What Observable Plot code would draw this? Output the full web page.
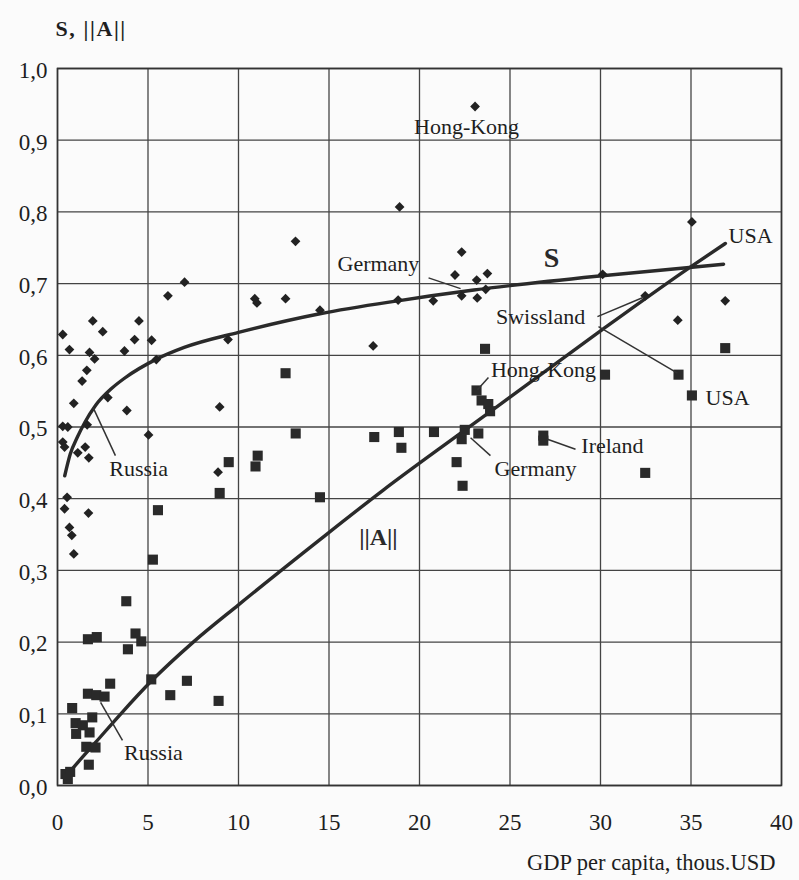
<!DOCTYPE html>
<html>
<head>
<meta charset="utf-8">
<script src="https://cdn.jsdelivr.net/npm/d3@7"></script>
<script src="https://cdn.jsdelivr.net/npm/@observablehq/plot@0.6"></script>
<style>
  html, body { margin: 0; padding: 0; background: #fbfbfb; }
</style>
</head>
<body>
<div id="chart"></div>
<script>
// ---- Data ----
const xTicks = [0, 5, 10, 15, 20, 25, 30, 35, 40];
const yTicks = [0, 0.1, 0.2, 0.3, 0.4, 0.5, 0.6, 0.7, 0.8, 0.9, 1.0];
const yTickLabels = ["0,0","0,1","0,2","0,3","0,4","0,5","0,6","0,7","0,8","0,9","1,0"];

// S (diamonds)
const sGdp = [7.02,6.1,1.95,4.5,0.29,2.5,4.26,5.2,9.42,0.66,1.77,2.05,3.7,5.46,1.62,1.36,2.78,0.9,3.83,8.96,
  0.29,0.57,1.64,5.03,0.29,0.39,1.53,1.12,1.73,8.87,0.53,0.39,1.71,0.66,0.79,0.9,
  23.07,18.9,13.15,22.33,21.96,23.75,23.16,10.9,11.02,12.6,14.5,18.82,20.76,22.33,23.19,23.66,17.44,
  35.05,30.12,32.47,36.89,34.27];
const sValue = [0.702,0.683,0.648,0.648,0.629,0.633,0.622,0.621,0.622,0.608,0.604,0.595,0.606,0.594,0.579,0.564,0.541,0.533,0.523,0.528,
  0.501,0.5,0.503,0.489,0.479,0.472,0.472,0.464,0.457,0.437,0.402,0.386,0.38,0.36,0.349,0.323,
  0.947,0.807,0.759,0.744,0.712,0.714,0.705,0.679,0.673,0.679,0.663,0.677,0.676,0.683,0.68,0.692,0.613,
  0.786,0.713,0.683,0.676,0.649];

// ||A|| (squares)
const aGdp = [9.46,8.96,5.55,5.27,12.6,13.16,11.06,10.94,14.5,17.5,18.86,19.0,20.8,
  3.8,1.68,2.17,4.31,4.63,3.89,5.18,7.15,2.91,1.68,2.14,2.6,6.23,8.9,0.81,1.0,1.92,1.4,1.77,1.03,1.59,2.1,1.73,0.44,0.7,0.57,
  23.62,36.89,30.25,34.31,35.05,23.15,23.43,23.8,23.9,22.5,22.33,23.25,26.84,26.84,22.05,22.38,32.47];
const aValue = [0.451,0.408,0.384,0.315,0.575,0.491,0.46,0.445,0.402,0.486,0.493,0.471,0.493,
  0.257,0.204,0.207,0.212,0.201,0.19,0.148,0.146,0.142,0.128,0.126,0.124,0.126,0.118,0.108,0.087,0.095,0.084,0.074,0.072,0.054,0.053,0.029,0.016,0.019,0.009,
  0.609,0.61,0.573,0.573,0.544,0.551,0.537,0.532,0.522,0.496,0.483,0.491,0.488,0.481,0.451,0.418,0.436];

// trend curves
const sCurveGdp = [0.4,0.7,1.1,1.5,2.1,3,3.7,5.5,7,10,14.5,18.8,23,30.1,36.8];
const sCurveValue = [0.432,0.462,0.486,0.506,0.530,0.554,0.568,0.595,0.611,0.632,0.658,0.676,0.691,0.711,0.727];
const aCurveGdp = [0.5,1.15,2.1,3.5,5.2,7.5,10,14.5,18,22.2,26,30,34.9,36.9];
const aCurveValue = [0.014,0.033,0.060,0.100,0.146,0.200,0.252,0.343,0.412,0.490,0.560,0.634,0.722,0.756];

// annotations
const labelText = ["Hong-Kong","Germany","USA","Swissland","USA","Hong-Kong","Ireland","Germany","Russia","Russia"];
const labelGdp  = [22.6,17.73,38.29,26.69,37.02,26.85,30.66,26.41,4.48,5.3];
const labelVal  = [0.918,0.727,0.766,0.653,0.540,0.579,0.474,0.442,0.442,0.046];

const seriesText = ["S", "||A||"];
const seriesGdp = [27.29, 17.73];
const seriesVal = [0.735, 0.346];

const leaderX1 = [20.5,29.83,29.89,23.81,28.62,23.92,3.2,3.59];
const leaderY1 = [0.708,0.654,0.64,0.569,0.469,0.46,0.46,0.063];
const leaderX2 = [22.27,32.38,34.25,23.2,27.07,22.82,1.99,2.38];
const leaderY2 = [0.693,0.681,0.575,0.552,0.483,0.485,0.526,0.116];

// ---- Build tables ----
const sPoints = sGdp.map((x, i) => ({x, y: sValue[i]}));
const aPoints = aGdp.map((x, i) => ({x, y: aValue[i]}));
const sCurve = sCurveGdp.map((x, i) => ({x, y: sCurveValue[i]}));
const aCurve = aCurveGdp.map((x, i) => ({x, y: aCurveValue[i]}));
const labels = labelText.map((t, i) => ({t, x: labelGdp[i], y: labelVal[i]}));
const seriesLabels = seriesText.map((t, i) => ({t, x: seriesGdp[i], y: seriesVal[i]}));
const leaders = leaderX1.map((x1, i) => ({x1, y1: leaderY1[i], x2: leaderX2[i], y2: leaderY2[i]}));

const diamond = {
  draw(ctx, size) {
    const r = Math.sqrt(size / 2);
    ctx.moveTo(0, -r); ctx.lineTo(r, 0); ctx.lineTo(0, r); ctx.lineTo(-r, 0); ctx.closePath();
  }
};

const ink = "#1e1e1e";
const font = "'Liberation Serif', 'Times New Roman', serif";

const chart = Plot.plot({
  width: 799,
  height: 880,
  marginLeft: 57,
  marginRight: 18,
  marginTop: 68,
  marginBottom: 95,
  style: {fontFamily: font, fontSize: "23px", background: "#fbfbfb", color: ink},
  x: {domain: [0, 40]},
  y: {domain: [0, 1]},
  marks: [
    Plot.gridX(xTicks, {stroke: "#444", strokeOpacity: 1, strokeWidth: 1.3}),
    Plot.gridY(yTicks, {stroke: "#444", strokeOpacity: 1, strokeWidth: 1.3}),
    Plot.frame({stroke: "#333", strokeWidth: 1.6}),
    Plot.axisX({ticks: xTicks, tickSize: 0, tickPadding: 28, label: null, fontSize: 23, fill: ink}),
    Plot.axisY({ticks: yTicks, tickSize: 0, tickPadding: 10, label: null, fontSize: 23, fill: ink, dy: 2,
      tickFormat: d => yTickLabels[yTicks.findIndex(v => Math.abs(v - d) < 1e-9)]}),
    Plot.line(sCurve, {x: "x", y: "y", curve: "monotone-x", stroke: "#2a2a2a", strokeWidth: 3.4}),
    Plot.line(aCurve, {x: "x", y: "y", curve: "monotone-x", stroke: "#2a2a2a", strokeWidth: 3.4}),
    Plot.dot(sPoints, {x: "x", y: "y", symbol: diamond, r: 3.9, fill: "#222", stroke: "none"}),
    Plot.dot(aPoints, {x: "x", y: "y", symbol: "square", r: 5.7, fill: "#2a2a2a", stroke: "none"}),
    Plot.link(leaders, {x1: "x1", y1: "y1", x2: "x2", y2: "y2", stroke: "#333", strokeWidth: 1.5}),
    Plot.text(labels, {x: "x", y: "y", text: "t", fontSize: 22, fill: ink, textAnchor: "middle", lineAnchor: "middle"}),
    Plot.text(seriesLabels, {x: "x", y: "y", text: "t", fontSize: d => d.t === "S" ? 28 : 24, fontWeight: "bold", fill: "#2a2a2a", textAnchor: "middle", lineAnchor: "middle"}),
    Plot.text(["S, ||A||"], {frameAnchor: "top-left", dx: -2, dy: -40, text: d => d, fontSize: 22, fontWeight: "bold", fill: ink, textAnchor: "start", lineAnchor: "middle", className: "ytitle"}),
    Plot.text(["GDP per capita, thous.USD"], {frameAnchor: "bottom-right", dx: -6, dy: 77, text: d => d, fontSize: 22.5, fill: ink, textAnchor: "end", lineAnchor: "middle"})
  ]
});
d3.select(chart).selectAll(".ytitle text").attr("letter-spacing", "1.6px");
document.getElementById("chart").appendChild(chart);
</script>
</body>
</html>
